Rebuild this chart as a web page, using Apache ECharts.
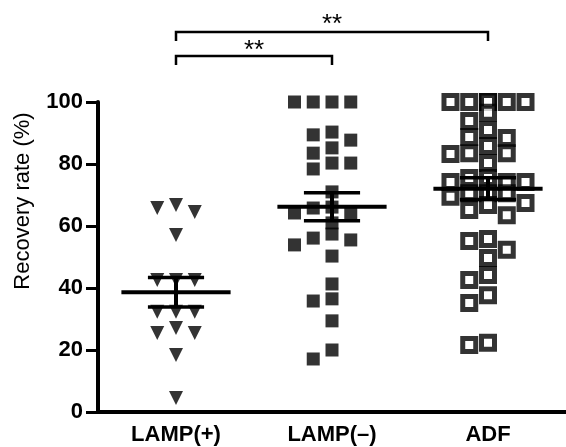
<!DOCTYPE html>
<html>
<head>
<meta charset="utf-8">
<script src="https://cdn.jsdelivr.net/npm/echarts@6/dist/echarts.min.js"></script>
<style>html,body{margin:0;padding:0;background:#fff;}#c{width:566px;height:447px;}</style>
</head>
<body>
<div id="c"></div>
<script>
// ---- data ----
const categories = ['LAMP(+)', 'LAMP(–)', 'ADF'];
const lampPos = [66.8, 65.8, 64.5, 57.1, 42.6, 42.6, 42.6, 32.3, 32.3, 32.3, 27.1, 25.5, 25.5, 18.4, 4.5];
const lampNeg = [100, 100, 100, 100, 90.3, 89.4, 87.7, 85.2, 83.5, 80.3, 80.3, 78.4, 71.0, 66.1, 65.8, 64.2, 64.2,
                 61.0, 57.4, 56.1, 55.5, 53.9, 50.3, 41.3, 36.5, 35.8, 29.4, 20.0, 17.1];
const adf = [100, 100, 100, 100, 100, 100, 96.5, 93.9, 91.0, 88.7, 88.4, 85.8, 83.5, 83.5, 83.2, 80.3, 75.5, 75.5,
             74.2, 74.2, 74.2, 70.6, 70.6, 70.6, 69.4, 67.4, 66.8, 65.2, 63.5, 55.8, 55.2, 52.3, 49.7, 44.2, 42.6,
             37.7, 35.2, 22.3, 21.6];
const yTicks = [0, 20, 40, 60, 80, 100];
const significance = [{from: 0, to: 1, label: '**'}, {from: 0, to: 2, label: '**'}];

// ---- layout ----
const W = 566, H = 447;
const GRID = {left: 98, right: -6, top: 102, bottom: 35};
const FONT = "'Liberation Sans', Arial, sans-serif";
const pxPerUnit = (H - GRID.top - GRID.bottom) / (yTicks[yTicks.length - 1] - yTicks[0]);
const catPx = (W - GRID.left - GRID.right) / categories.length;
const SLOT = 19 / catPx;      // horizontal spread step (category units)
const MIN_GAP = 11;           // px, vertical distance before points need spreading
const SLOTS = [0, -1, 1, -2, 2];

// simple dot-plot spreading: put each point in the most central free column,
// otherwise in the column with the largest vertical clearance
function swarm(vals, gi) {
  const placed = [];
  const order = vals.map((v, i) => i).sort((a, b) => vals[b] - vals[a]);
  const out = [];
  for (const i of order) {
    const v = vals[i];
    let best = null, bestClear = -1;
    for (const s of SLOTS) {
      const same = placed.filter(p => p.s === s);
      const clear = same.length ? Math.min(...same.map(p => Math.abs(p.v - v) * pxPerUnit)) : Infinity;
      if (clear >= MIN_GAP) { best = s; break; }
      if (clear > bestClear) { bestClear = clear; best = s; }
    }
    placed.push({s: best, v});
    out.push([gi + best * SLOT, v]);
  }
  return out;
}
function stats(vals) {
  const n = vals.length;
  const mean = vals.reduce((a, b) => a + b, 0) / n;
  const sd = Math.sqrt(vals.reduce((a, b) => a + (b - mean) * (b - mean), 0) / (n - 1));
  return {mean, sem: sd / Math.sqrt(n)};
}
const groups = [lampPos, lampNeg, adf];
const summary = groups.map((g, i) => { const s = stats(g); return [i, s.mean, s.sem]; });

const chart = echarts.init(document.getElementById('c'), null, {renderer: 'canvas'});
chart.setOption({
  animation: false,
  backgroundColor: '#fff',
  grid: GRID,
  xAxis: [{
    type: 'category', data: categories, boundaryGap: true,
    axisLine: {onZero: false, lineStyle: {color: '#000', width: 4}},
    axisTick: {alignWithLabel: true, length: 10, lineStyle: {color: '#000', width: 3}},
    axisLabel: {color: '#000', fontFamily: FONT, fontSize: 22, fontWeight: 'bold', margin: 12},
    splitLine: {show: false}
  }, {
    type: 'value', min: -0.5, max: 2.5, show: false
  }],
  yAxis: {
    type: 'value', min: 0, max: 100, interval: 20,
    axisLine: {show: true, onZero: false, lineStyle: {color: '#000', width: 4}},
    axisTick: {show: true, length: 12, lineStyle: {color: '#000', width: 3}},
    axisLabel: {color: '#000', fontFamily: FONT, fontSize: 22, fontWeight: 'bold', margin: 15},
    splitLine: {show: false}
  },
  graphic: [{
    type: 'text', x: 23, y: 201, rotation: Math.PI / 2,
    style: {text: 'Recovery rate (%)', fill: '#000', font: '22px ' + FONT, align: 'center', verticalAlign: 'middle'}
  }],
  series: [
    {type: 'scatter', xAxisIndex: 1, clip: false, data: swarm(lampPos, 0), symbol: 'triangle', symbolRotate: 180,
     symbolSize: 14, itemStyle: {color: '#000'}, z: 2},
    {type: 'scatter', xAxisIndex: 1, clip: false, data: swarm(lampNeg, 1), symbol: 'rect',
     symbolSize: 13, itemStyle: {color: '#000'}, z: 2},
    {type: 'scatter', xAxisIndex: 1, clip: false, data: swarm(adf, 2), symbol: 'rect',
     symbolSize: 13, itemStyle: {color: '#fff', borderColor: '#000', borderWidth: 5}, z: 2},
    {type: 'custom', xAxisIndex: 1, z: 5, data: summary, encode: {x: 0, y: 1},
     renderItem: function (params, api) {
       const i = api.value(0), m = api.value(1), e = api.value(2);
       const c = api.coord([i, m]), t = api.coord([i, m + e]), b = api.coord([i, m - e]);
       const hw = api.size([0.35, 0])[0], hc = api.size([0.18, 0])[0];
       const st = w => ({stroke: '#000', lineWidth: w});
       return {type: 'group', children: [
         {type: 'line', shape: {x1: c[0] - hw, y1: c[1], x2: c[0] + hw, y2: c[1]}, style: st(4)},
         {type: 'line', shape: {x1: t[0], y1: t[1], x2: b[0], y2: b[1]}, style: st(4)},
         {type: 'line', shape: {x1: t[0] - hc, y1: t[1], x2: t[0] + hc, y2: t[1]}, style: st(3.5)},
         {type: 'line', shape: {x1: b[0] - hc, y1: b[1], x2: b[0] + hc, y2: b[1]}, style: st(3.5)}
       ]};
     }},
    {type: 'custom', xAxisIndex: 1, z: 5, clip: false,
     data: significance.map((s, k) => [s.from, s.to, k]), encode: {x: [0, 1]},
     renderItem: function (params, api) {
       const k = params.dataIndex;
       const p1 = api.coord([api.value(0), 100]), p2 = api.coord([api.value(1), 100]);
       const y = p1[1] - 46 - k * 24;
       return {type: 'group', children: [
         {type: 'polyline', shape: {points: [[p1[0], y + 9], [p1[0], y], [p2[0], y], [p2[0], y + 9]]},
          style: {stroke: '#000', lineWidth: 2.5, fill: null}},
         {type: 'text', x: (p1[0] + p2[0]) / 2, y: y - 5 - k * 2,
          style: {text: significance[k].label, fill: '#000', font: '26px ' + FONT, align: 'center', verticalAlign: 'middle'}}
       ]};
     }}
  ]
});
</script>
</body>
</html>
